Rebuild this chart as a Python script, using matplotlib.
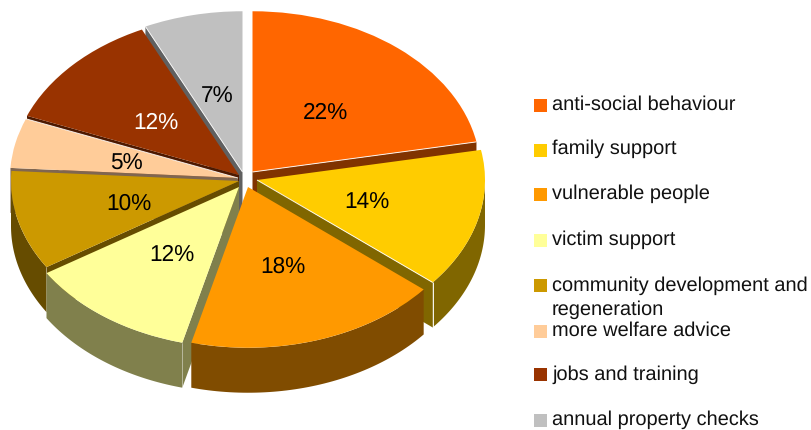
import numpy as np
import matplotlib
matplotlib.use("Agg")
import matplotlib.pyplot as plt
from matplotlib.patches import Polygon, Rectangle

plt.rcParams["font.family"] = ["Liberation Sans", "DejaVu Sans"]
plt.rcParams["text.hinting"] = "no_hinting"

# Survey shares
categories = ["anti-social behaviour", "family support", "vulnerable people", "victim support",
              "community development and\nregeneration", "more welfare advice",
              "jobs and training", "annual property checks"]
shares = [22, 14, 18, 12, 10, 5, 12, 7]
top_colors = ["#FF6600", "#FFCC00", "#FF9900", "#FFFF99", "#CC9900", "#FFCC99", "#993300", "#C0C0C0"]
side_colors = ["#803300", "#806600", "#804C00", "#80804C", "#664C00", "#806650", "#4D1900", "#606060"]
label_colors = ["black", "black", "black", "black", "black", "black", "white", "black"]

# Layout, in figure pixels
W, H = 811, 430
SQUASH = 0.705            # vertical foreshortening of the pie disc
RADIUS = 228
DEPTH = 45
LABEL_DROP = 3
apexes = [(252.5, 172), (257, 180), (248, 187), (239, 187),
          (239, 181), (238, 178), (239, 175), (242.5, 172)]
paint_order = [7, 6, 5, 4, 3, 0, 1, 2]    # back slices first, exploded front slice last
swatch_y = [105, 150, 194, 240, 285, 331, 374, 420]
text_baseline = [110, 154, 199, 245, 315, 336, 380, 425]

fig = plt.figure(figsize=(W / 100, H / 100), dpi=100)
ax = fig.add_axes([0, 0, 1, 1])


def to_data(px, py):
    return px, (H - py) / SQUASH


wedges, _, pct_texts = ax.pie(shares, colors=top_colors, startangle=90, counterclock=False,
                              radius=RADIUS, autopct="%d%%", pctdistance=0.5,
                              wedgeprops={"linewidth": 0}, textprops={"fontsize": 16.3})
ax.set_aspect("auto")
ax.set_xlim(0, W)
ax.set_ylim(0, H / SQUASH)
ax.axis("off")

depth_d = DEPTH / SQUASH
edges = np.cumsum([0] + shares) / sum(shares) * 360.0


def rim_point(cx, cy, t):
    r = np.radians(t)
    return cx + RADIUS * np.sin(r), cy + RADIUS * np.cos(r)


def extrude(points):
    pts = np.asarray(points)
    low = pts - [0, depth_d]
    return np.vstack([pts, low[::-1]])


def hairline(start, end, z, alpha=1.0):
    ax.plot([start[0], end[0]], [start[1], end[1]], color="white", lw=0.7, alpha=alpha,
            solid_capstyle="butt", zorder=z)


for rank, i in enumerate(paint_order):
    t0, t1 = edges[i], edges[i + 1]
    cx, cy = to_data(*apexes[i])
    z = 2 + 3 * rank
    wedges[i].set_center((cx, cy))
    wedges[i].set_zorder(z + 1)
    px, py = pct_texts[i].get_position()
    pct_texts[i].set_position((px + cx, py + cy - LABEL_DROP / SQUASH))
    pct_texts[i].set_color(label_colors[i])
    pct_texts[i].set_zorder(100)

    # Radial cut faces that turn towards the viewer, with a bright seam under the top face
    if np.sin(np.radians(t1)) > 0:
        ax.add_patch(Polygon(extrude([(cx, cy), rim_point(cx, cy, t1)]),
                             fc=side_colors[i], lw=0, zorder=z))
        hairline((cx, cy), rim_point(cx, cy, t1), z + 2, 0.9)
    if np.sin(np.radians(t0)) < 0:
        ax.add_patch(Polygon(extrude([(cx, cy), rim_point(cx, cy, t0)]),
                             fc=side_colors[i], lw=0, zorder=z))

    # Outer rim, front half of the disc only
    a, b = max(t0, 90.0), min(t1, 270.0)
    if b > a:
        arc = [rim_point(cx, cy, t) for t in np.linspace(a, b, 60)]
        ax.add_patch(Polygon(extrude(arc), fc=side_colors[i], lw=0, zorder=z))

    # Lit vertical corner where a rim meets its cut face
    if 90 < t1 < 180:
        x, y = rim_point(cx, cy, t1)
        hairline((x, y), (x, y - depth_d), z + 2, 0.95)
    if 180 < t0 < 270:
        x, y = rim_point(cx, cy, t0)
        hairline((x, y), (x, y - depth_d), z + 2, 0.3)

# Seam along the jobs slice and the grey slice
for i, t in [(5, edges[6]), (7, edges[7])]:
    cx, cy = to_data(*apexes[i])
    hairline((cx, cy), rim_point(cx, cy, t), 60, 0.85)

# Legend in pixel coordinates
lax = fig.add_axes([0, 0, 1, 1], facecolor="none")
lax.set_xlim(0, W)
lax.set_ylim(H, 0)
lax.axis("off")
for name, color, sy, by in zip(categories, top_colors, swatch_y, text_baseline):
    lax.add_patch(Rectangle((534, sy - 6.5), 13, 13, fc=color, lw=0))
    lax.text(552, by, name, fontsize=14.4, va="baseline", ha="left", color="#111111",
             linespacing=1.35)

fig.savefig("out.png", dpi=100, facecolor="white")
